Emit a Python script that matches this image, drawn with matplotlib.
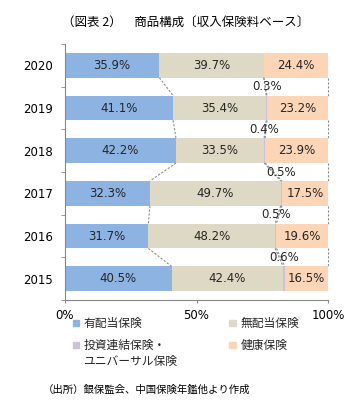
import matplotlib
matplotlib.use("Agg")
import matplotlib.pyplot as plt
from matplotlib.patches import Rectangle
import numpy as np

years = ["2015", "2016", "2017", "2018", "2019", "2020"]
dividend = [40.5, 31.7, 32.3, 42.2, 41.1, 35.9]
non_dividend = [42.4, 48.2, 49.7, 33.5, 35.4, 39.7]
investment = [0.6, 0.5, 0.5, 0.4, 0.3, 0.0]
health = [16.5, 19.6, 17.5, 23.9, 23.2, 24.4]

series_names = ["有配当保険", "無配当保険", "投資連結保険・\nユニバーサル保険", "健康保険"]
colors = ["#8DB3E2", "#DDD9C4", "#CCC1DA", "#FBD5B5"]
xticks = [0, 50, 100]
xticklabels = ["0%", "50%", "100%"]

title = "（図表 2）　商品構成〔収入保険料ベース〕"
source = "（出所）銀保監会、中国保険年鑑他より作成"

W, H = 360, 413
fig = plt.figure(figsize=(W / 100, H / 100), dpi=100)
ax = fig.add_axes([65 / W, 1 - 300 / H, (328 - 65) / W, (300 - 44) / H])

cjk = ["Noto Sans CJK JP", "DejaVu Sans"]
num_font = "DejaVu Sans"

y = np.arange(len(years))
bar_h = 0.58
data = [dividend, non_dividend, investment, health]
left = np.zeros(len(years))
cums = []
for vals, c in zip(data, colors):
    vals = np.array(vals)
    ax.barh(y, vals, left=left, height=bar_h, color=c, edgecolor="none", zorder=2)
    left = left + vals
    cums.append(left.copy())

# data labels
lefts = np.zeros(len(years))
for k, vals in enumerate(data):
    vals = np.array(vals)
    for i, v in enumerate(vals):
        cx = lefts[i] + v / 2
        if k == 2:
            if v > 0:
                ax.text(cx, y[i] + 0.5, f"{v:.1f}%", ha="center", va="center",
                        fontsize=8.5, color="#262626", family=num_font, zorder=4)
        else:
            ax.text(cx, y[i], f"{v:.1f}%", ha="center", va="center",
                    fontsize=8.5, color="#262626", family=num_font, zorder=4)
    lefts = lefts + vals

# series lines
for cum in cums:
    for i in range(len(years) - 1):
        ax.plot([cum[i + 1], cum[i]], [y[i + 1] - bar_h / 2, y[i] + bar_h / 2],
                color="#8C8C8C", lw=0.8, ls=(0, (2, 1.5)), zorder=3, clip_on=False)

ax.set_xlim(0, 100)
ax.set_ylim(-0.5, len(years) - 0.5)
ax.set_xticks(xticks)
ax.set_xticklabels(xticklabels, family=num_font, fontsize=8.5)
ax.set_yticks(y)
ax.set_yticklabels(years, family=num_font, fontsize=8.5)
ax.set_yticks(np.arange(-0.5, len(years), 1), minor=True)
ax.tick_params(axis="y", which="major", length=0, pad=9)
ax.tick_params(axis="y", which="minor", length=3, color="#868686", direction="out")
ax.tick_params(axis="x", which="major", length=2.5, color="#868686", pad=4)
for s in ["top", "right"]:
    ax.spines[s].set_visible(False)
for s in ["left", "bottom"]:
    ax.spines[s].set_color("#868686")
    ax.spines[s].set_linewidth(0.8)

# title and source
fig.text(62 / W, 1 - 22 / H, title, ha="left", va="center", fontsize=9, family=cjk)
fig.text(43 / W, 1 - 390 / H, source, ha="left", va="center", fontsize=7.5, family=cjk)

# legend (manual)
legend_pos = [(75.5, 323), (232.5, 323), (75.5, 345), (232.5, 345)]
for k, (mx, my) in enumerate(legend_pos):
    fig.patches.append(Rectangle(((mx - 3) / W, 1 - (my + 3) / H), 6 / W, 6 / H,
                                 transform=fig.transFigure, color=colors[k]))
    fig.text((mx + 8) / W, 1 - (my - 6.5) / H, series_names[k], ha="left", va="top",
             fontsize=8.5, family=cjk, color="#262626", linespacing=1.3)

fig.savefig("out.png", dpi=100)
